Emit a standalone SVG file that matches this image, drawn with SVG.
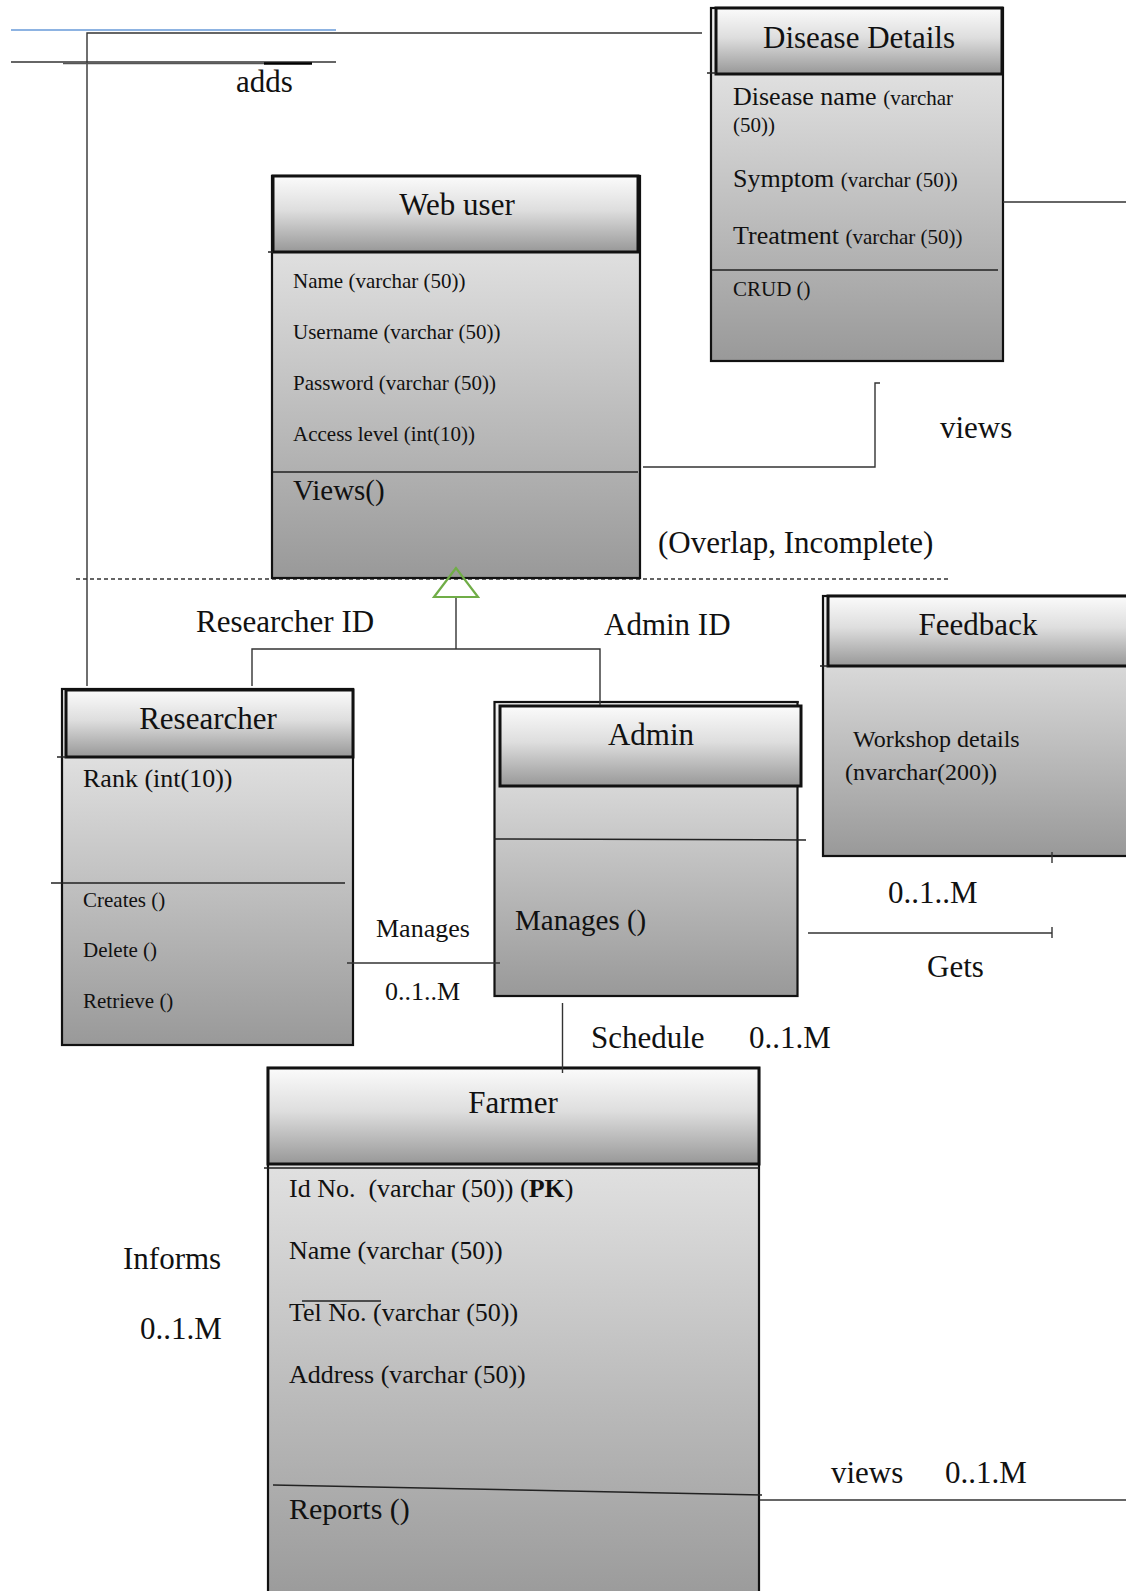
<svg xmlns="http://www.w3.org/2000/svg" width="1126" height="1591" viewBox="0 0 1126 1591">
  <defs>
    <linearGradient id="hdr" x1="0" y1="0" x2="0" y2="1">
      <stop offset="0" stop-color="#fbfbfb"/>
      <stop offset="0.45" stop-color="#dedede"/>
      <stop offset="1" stop-color="#989898"/>
    </linearGradient>
    <linearGradient id="body" x1="0" y1="0" x2="0" y2="1">
      <stop offset="0" stop-color="#f0f0f0"/>
      <stop offset="1" stop-color="#999999"/>
    </linearGradient>
    <style>
      text { font-family: "Liberation Serif", "Times New Roman", serif; fill: #111; }
      .title { font-size: 31px; text-anchor: middle; }
      .lbl { font-size: 31px; }
      .a21 { font-size: 21px; }
      .a26 { font-size: 26px; }
      .box { fill: url(#body); stroke: #111; stroke-width: 2.2; }
      .hd { fill: url(#hdr); stroke: #111; stroke-width: 3; }
      .sep { stroke: #222; stroke-width: 1.5; fill: none; }
      .conn line, .conn polyline, .conn path { stroke: #333; stroke-width: 1.4; fill: none; }
    </style>
  </defs>

  <rect width="1126" height="1591" fill="#ffffff"/>

  <!-- generalisation boundary (drawn beneath the classes) -->
  <line x1="76" y1="579" x2="948" y2="579" stroke="#333" stroke-width="1.4" stroke-dasharray="4 3"/>

  <!-- Disease Details -->
  <g id="disease-details">
    <rect class="box" x="711" y="8" width="292" height="353"/>
    <rect class="hd" x="716" y="8" width="286" height="66"/>
    <line class="sep" x1="707" y1="73" x2="716" y2="73"/>
    <text class="title" x="859" y="48">Disease Details</text>
    <text x="733" y="105"><tspan font-size="26">Disease name </tspan><tspan font-size="21">(varchar</tspan></text>
    <text class="a21" x="733" y="132">(50))</text>
    <text x="733" y="187"><tspan font-size="26">Symptom </tspan><tspan font-size="21">(varchar (50))</tspan></text>
    <text x="733" y="244"><tspan font-size="26">Treatment </tspan><tspan font-size="21">(varchar (50))</tspan></text>
    <line class="sep" x1="712" y1="270" x2="998" y2="270"/>
    <text class="a21" x="733" y="296">CRUD ()</text>
  </g>

  <!-- Web user -->
  <g id="web-user">
    <rect class="box" x="272" y="176" width="368" height="402"/>
    <rect class="hd" x="273" y="176" width="365" height="76"/>
    <line class="sep" x1="268" y1="252" x2="273" y2="252"/>
    <text class="title" x="457" y="215">Web user</text>
    <text class="a21" x="293" y="288">Name (varchar (50))</text>
    <text class="a21" x="293" y="339">Username (varchar (50))</text>
    <text class="a21" x="293" y="390">Password (varchar (50))</text>
    <text class="a21" x="293" y="441">Access level (int(10))</text>
    <line class="sep" x1="273" y1="472" x2="638" y2="472"/>
    <text x="293" y="500" font-size="29">Views()</text>
  </g>

  <!-- Researcher -->
  <g id="researcher">
    <rect class="box" x="62" y="689" width="291" height="356"/>
    <rect class="hd" x="66" y="690" width="287" height="67"/>
    <line class="sep" x1="57" y1="757" x2="66" y2="757"/>
    <text class="title" x="208" y="729">Researcher</text>
    <text class="a26" x="83" y="787">Rank (int(10))</text>
    <line class="sep" x1="51" y1="883" x2="345" y2="883"/>
    <text class="a21" x="83" y="907">Creates ()</text>
    <text class="a21" x="83" y="957">Delete ()</text>
    <text class="a21" x="83" y="1008">Retrieve ()</text>
  </g>

  <!-- Admin -->
  <g id="admin">
    <rect class="box" x="494.5" y="702" width="303" height="294"/>
    <line class="sep" x1="797.5" y1="702" x2="799" y2="702"/>
    <rect class="hd" x="500" y="706" width="301" height="80"/>
    <text class="title" x="651" y="745">Admin</text>
    <line class="sep" x1="494" y1="839" x2="806" y2="840"/>
    <text x="515" y="930" font-size="29">Manages ()</text>
  </g>

  <!-- Feedback -->
  <g id="feedback">
    <rect class="box" x="823" y="596" width="320" height="260"/>
    <rect class="hd" x="828" y="596" width="315" height="70"/>
    <line class="sep" x1="820" y1="666" x2="828" y2="666"/>
    <text class="title" x="978" y="635">Feedback</text>
    <text x="853" y="747" font-size="24">Workshop details</text>
    <text x="845" y="780" font-size="24">(nvarchar(200))</text>
  </g>

  <!-- Farmer -->
  <g id="farmer">
    <rect class="box" x="268" y="1068" width="491" height="540"/>
    <rect class="hd" x="268" y="1068" width="491" height="96"/>
    <line class="sep" x1="264" y1="1168" x2="759" y2="1168"/>
    <text class="title" x="513" y="1113">Farmer</text>
    <text class="a26" x="289" y="1197" style="white-space:pre">Id No.  (varchar (50)) (<tspan font-weight="bold">PK</tspan>)</text>
    <text class="a26" x="289" y="1259">Name (varchar (50))</text>
    <text class="a26" x="289" y="1321">Tel No. (varchar (50))</text>
    <line class="sep" x1="302" y1="1301" x2="381" y2="1301" stroke-width="1.2"/>
    <text class="a26" x="289" y="1383">Address (varchar (50))</text>
    <line class="sep" x1="273" y1="1485" x2="762" y2="1495"/>
    <text x="289" y="1519" font-size="30">Reports ()</text>
  </g>

  <!-- Connectors -->
  <g id="connectors" class="conn">
    <!-- adds: Researcher to Disease Details -->
    <line x1="11" y1="30" x2="336" y2="30" style="stroke:#8db3e2;stroke-width:2"/>
    <polyline points="87,686 87,33 702,33"/>
    <line x1="11" y1="62" x2="336" y2="62"/>
    <line x1="63" y1="63.5" x2="264" y2="63.5" style="stroke:#555;stroke-width:1.6"/>
    <line x1="264" y1="63.5" x2="312" y2="63.5" style="stroke:#000;stroke-width:2.6"/>
    <!-- Disease Details outgoing -->
    <line x1="1003" y1="202" x2="1126" y2="202"/>
    <!-- views: Web user to Disease Details -->
    <polyline points="643,467 875,467 875,383 880,383"/>
    <!-- generalisation -->
    <polygon points="456,568 434,597 478,597" style="fill:none;stroke:#70ad47;stroke-width:2.2"/>
    <line x1="456" y1="598" x2="456" y2="649"/>
    <polyline points="252,686 252,649 600,649 600,705"/>
    <!-- Manages: Researcher to Admin -->
    <line x1="347" y1="963" x2="500" y2="963"/>
    <!-- Schedule: Admin to Farmer -->
    <line x1="562.5" y1="1003" x2="562.5" y2="1073"/>
    <!-- Gets: Admin to Feedback -->
    <line x1="808" y1="933" x2="1052" y2="933"/>
    <line x1="1052" y1="927" x2="1052" y2="938"/>
    <line x1="1052" y1="852" x2="1052" y2="863"/>
    <!-- views: Farmer outgoing -->
    <line x1="760" y1="1500" x2="1126" y2="1500"/>
  </g>

  <!-- relation labels -->
  <g id="labels">
    <text class="lbl" x="236" y="92">adds</text>
    <text class="lbl" x="940" y="438" font-size="30">views</text>
    <text class="lbl" x="658" y="553">(Overlap, Incomplete)</text>
    <text class="lbl" x="196" y="632">Researcher ID</text>
    <text class="lbl" x="604" y="635">Admin ID</text>
    <text class="a26" x="376" y="937">Manages</text>
    <text class="a26" x="385" y="1000">0..1..M</text>
    <text class="lbl" x="888" y="903">0..1..M</text>
    <text class="lbl" x="927" y="977">Gets</text>
    <text class="lbl" x="591" y="1048">Schedule</text>
    <text class="lbl" x="749" y="1048">0..1.M</text>
    <text class="lbl" x="123" y="1269">Informs</text>
    <text class="lbl" x="140" y="1339">0..1.M</text>
    <text class="lbl" x="831" y="1483">views</text>
    <text class="lbl" x="945" y="1483">0..1.M</text>
  </g>
</svg>
